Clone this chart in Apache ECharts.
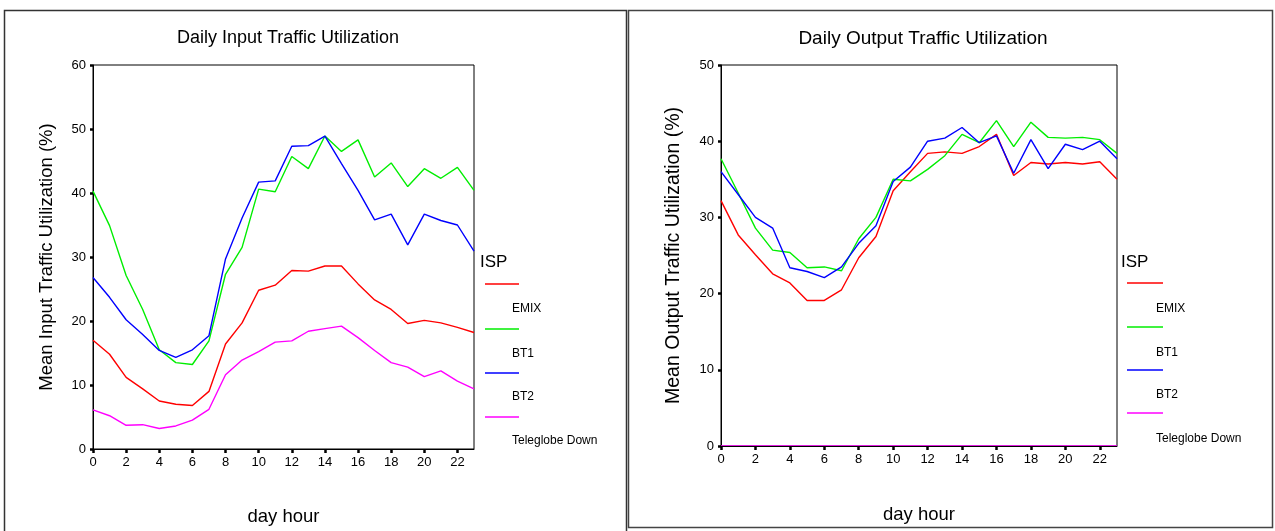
<!DOCTYPE html>
<html>
<head>
<meta charset="utf-8">
<script src="https://cdn.jsdelivr.net/npm/echarts@6/dist/echarts.min.js"></script>
<style>
html,body{margin:0;padding:0;background:#fff;}
#chart{width:1275px;height:531px;}
</style>
</head>
<body>
<div id="chart"></div>
<script>
const hours = ['0','1','2','3','4','5','6','7','8','9','10','11','12','13','14','15','16','17','18','19','20','21','22','23'];
const seriesNames = ['EMIX', 'BT1', 'BT2', 'Teleglobe Down'];
const legendTitle = 'ISP';

// Daily Input Traffic Utilization
const inEMIX = [17.0,14.8,11.2,9.4,7.5,7.0,6.8,9.0,16.4,19.7,24.8,25.6,27.9,27.8,28.6,28.6,25.8,23.3,21.8,19.6,20.1,19.7,19.0,18.2];
const inBT1  = [40.3,34.9,27.1,21.8,15.5,13.5,13.2,16.9,27.3,31.5,40.6,40.2,45.7,43.8,48.9,46.5,48.3,42.5,44.7,41.0,43.8,42.3,44.0,40.4];
const inBT2  = [26.8,23.7,20.2,17.9,15.4,14.3,15.5,17.7,29.7,36.1,41.7,41.9,47.3,47.4,48.9,44.6,40.4,35.8,36.7,31.9,36.7,35.7,35.0,30.9];
const inTele = [6.1,5.2,3.7,3.8,3.2,3.6,4.5,6.2,11.6,13.9,15.2,16.7,16.9,18.4,18.8,19.2,17.4,15.4,13.5,12.8,11.3,12.2,10.6,9.4];

// Daily Output Traffic Utilization
const outEMIX = [32.2,27.7,25.1,22.6,21.4,19.1,19.1,20.5,24.7,27.5,33.5,36.0,38.4,38.6,38.4,39.3,40.9,35.5,37.2,37.0,37.2,37.0,37.3,35.0];
const outBT1  = [37.7,33.2,28.6,25.7,25.4,23.4,23.5,23.0,27.2,30.0,35.0,34.8,36.3,38.1,40.9,39.8,42.7,39.3,42.5,40.5,40.4,40.5,40.2,38.4];
const outBT2  = [36.0,33.0,30.0,28.6,23.4,22.9,22.1,23.5,26.6,28.9,34.7,36.6,40.0,40.4,41.8,39.8,40.7,35.8,40.2,36.4,39.6,38.9,40.0,37.7];
const outTele = [0,0,0,0,0,0,0,0,0,0,0,0,0,0,0,0,0,0,0,0,0,0,0,0];

const titles = ['Daily Input Traffic Utilization', 'Daily Output Traffic Utilization'];
const yNames = ['Mean Input Traffic Utilization (%)', 'Mean Output Traffic Utilization (%)'];
const xName = 'day hour';
const yMax = [60, 50];

const colors = ['#ff0000', '#00ee00', '#0000ff', '#ff00ff'];
const FONT = '"Liberation Sans", Arial, sans-serif';
const titleSize = [18, 19];
const yNameSize = [18.5, 19.5];

const chart = echarts.init(document.getElementById('chart'));

function xAxis(gi) {
  return {
    type: 'category', gridIndex: gi, data: hours, boundaryGap: false, z: 5,
    name: xName, nameLocation: 'middle', nameGap: gi === 0 ? 58 : 59,
    nameTextStyle: {fontFamily: FONT, fontSize: 18.5, color: '#000'},
    axisLine: {show: true, lineStyle: {color: '#000', width: 1}},
    axisTick: {show: true, inside: false, length: 4, interval: 1, alignWithLabel: true, lineStyle: {color: '#000', width: 2.5}},
    axisLabel: {interval: 1, fontFamily: FONT, fontSize: 13, color: '#000', margin: 7},
    splitLine: {show: false}
  };
}
function yAxis(gi) {
  return {
    type: 'value', gridIndex: gi, min: 0, max: yMax[gi], interval: 10,
    name: yNames[gi], nameLocation: 'middle', nameGap: 37, nameRotate: 90,
    nameTextStyle: {fontFamily: FONT, fontSize: yNameSize[gi], color: '#000'},
    axisLine: {show: true, lineStyle: {color: '#000', width: 1}},
    axisTick: {show: true, length: 3, lineStyle: {color: '#000', width: 2.5}},
    axisLabel: {fontFamily: FONT, fontSize: 13, color: '#000', margin: 7},
    splitLine: {show: false}
  };
}

const inData = [inEMIX, inBT1, inBT2, inTele];
const outData = [outEMIX, outBT1, outBT2, outTele];
const series = [];
[inData, outData].forEach((set, gi) => {
  set.forEach((d, i) => {
    series.push({
      name: seriesNames[i], type: 'line', xAxisIndex: gi, yAxisIndex: gi,
      data: d, symbol: 'none', smooth: false, animation: false,
      lineStyle: {color: colors[i], width: 1.4},
      itemStyle: {color: colors[i]},
      z: (gi === 1 && i === 3) ? 1 : 3
    });
  });
});

// Legend built from series names
const graphics = [
  {type: 'rect', shape: {x: 4.5, y: 10.5, width: 622, height: 540}, style: {fill: 'none', stroke: '#333', lineWidth: 1.5}, z: 0},
  {type: 'rect', shape: {x: 628.5, y: 10.5, width: 644, height: 517}, style: {fill: 'none', stroke: '#444', lineWidth: 1.5}, z: 0}
];
const legendPos = [
  {x: 480, titleY: 262, lineX0: 485, lineX1: 519, lineY: [284, 329, 373, 417], textX: 512, textY: [309, 354, 397, 441]},
  {x: 1121, titleY: 262, lineX0: 1127, lineX1: 1163, lineY: [283, 327, 370, 413], textX: 1156, textY: [309, 353, 395, 439]}
];
legendPos.forEach(p => {
  graphics.push({type: 'text', x: p.x, y: p.titleY, style: {text: legendTitle, font: '17px ' + FONT, fill: '#000', textVerticalAlign: 'middle'}});
  seriesNames.forEach((n, i) => {
    graphics.push({type: 'line', shape: {x1: p.lineX0, y1: p.lineY[i], x2: p.lineX1, y2: p.lineY[i]}, style: {stroke: colors[i], lineWidth: 1.4}});
    graphics.push({type: 'text', x: p.textX, y: p.textY[i], style: {text: n, font: '12px ' + FONT, fill: '#000', textVerticalAlign: 'middle'}});
  });
});

chart.setOption({
  backgroundColor: '#fff',
  animation: false,
  title: [
    {text: titles[0], left: 283, top: 24, textAlign: 'center', textStyle: {fontFamily: FONT, fontSize: titleSize[0], fontWeight: 'normal', color: '#000'}},
    {text: titles[1], left: 918, top: 24, textAlign: 'center', textStyle: {fontFamily: FONT, fontSize: titleSize[1], fontWeight: 'normal', color: '#000'}}
  ],
  grid: [
    {left: 93, top: 65, width: 381, height: 385, show: true, borderColor: '#000', borderWidth: 1, backgroundColor: 'transparent', containLabel: false},
    {left: 721, top: 65, width: 396, height: 381, show: true, borderColor: '#000', borderWidth: 1, backgroundColor: 'transparent', containLabel: false}
  ],
  xAxis: [xAxis(0), xAxis(1)],
  yAxis: [yAxis(0), yAxis(1)],
  series: series,
  graphic: graphics
});
</script>
</body>
</html>
